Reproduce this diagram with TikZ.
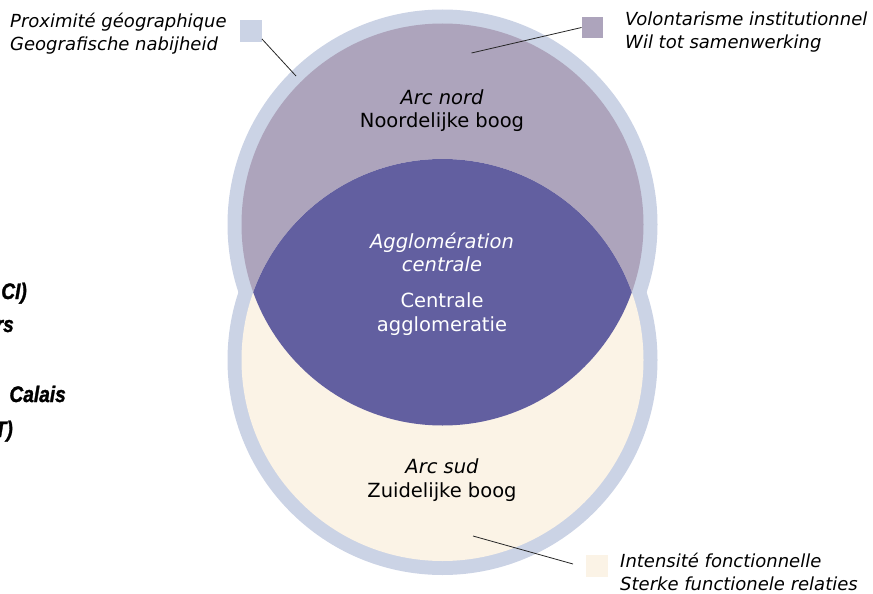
\documentclass[tikz,border=0pt]{standalone}
\usepackage{fontspec}
\usepackage{graphicx}
\setmainfont{DejaVu Sans}
\newfontfamily\fragfont{Liberation Sans}[BoldItalicFeatures={FakeBold=1.5}]
\definecolor{ringblue}{RGB}{203,211,229}
\definecolor{nordpurple}{RGB}{173,164,188}
\definecolor{lensblue}{RGB}{98,95,160}
\definecolor{sudcream}{RGB}{251,243,230}
\tikzset{
  lbl/.style={anchor=base, inner sep=0pt, font=\fontsize{19.5}{23}\selectfont},
  lbli/.style={lbl, font=\fontsize{19.5}{23}\selectfont\itshape},
  leg/.style={anchor=base west, inner sep=0pt, font=\fontsize{18}{23}\selectfont\itshape},
  swatch/.style={draw=none, minimum size=21.5pt, inner sep=0pt},
  leader/.style={draw=black!85, line width=0.8pt},
  frag/.style={anchor=base east, inner sep=0pt, font=\fontsize{22.5}{24}\fragfont\bfseries\itshape}
}
\begin{document}
\begin{tikzpicture}[x=1pt,y=-1pt]
\useasboundingbox (0,0) rectangle (873,594);
% outer rings
\fill[ringblue] (442.5,224.5) circle (215);
\fill[ringblue] (442.5,360) circle (215);
% inner fills
\fill[nordpurple] (442.5,224.5) circle (201);
\fill[sudcream] (442.5,360) circle (201);
% lens
\begin{scope}
  \clip (442.5,224.5) circle (201);
  \fill[lensblue] (442.5,360) circle (201);
\end{scope}

% centre labels
\node[lbli] (nordA) at (442,104) {Arc nord};
\node[lbl]  (nordB) at (442,127) {Noordelijke boog};
\node[lbli, text=white] (aggA) at (442,248) {Agglomération};
\node[lbli, text=white] (aggB) at (442,271) {centrale};
\node[lbl, text=white]  (aggC) at (442,307) {Centrale};
\node[lbl, text=white]  (aggD) at (442,331) {agglomeratie};
\node[lbli] (sudA) at (442,473) {Arc sud};
\node[lbl]  (sudB) at (442,497) {Zuidelijke boog};

% legend swatches
\node[swatch, fill=ringblue]   (sq1) at (251,31) {};
\node[swatch, fill=nordpurple] (sq2) at (592.5,27.5) {};
\node[swatch, fill=sudcream]   (sq3) at (597,566) {};

% legend texts
\node[leg] (leg1a) at (10,28) {Proximité géographique};
\node[leg] (leg1b) at (10,51) {Geografische nabijheid};
\node[leg] (leg2a) at (625,26) {Volontarisme institutionnel};
\node[leg] (leg2b) at (625,49) {Wil tot samenwerking};
\node[leg] (leg3a) at (620,567) {Intensité fonctionnelle};
\node[leg] (leg3b) at (620,590) {Sterke functionele relaties};

% leaders
\coordinate (p1) at (296,76);
\coordinate (p2) at (471.5,53);
\coordinate (p3a) at (473,536);
\coordinate (p3b) at (573,564);
\draw[leader] (sq1.-36) -- (p1);
\draw[leader] (sq2.west) -- (p2);
\draw[leader] (p3a) -- (p3b);

% cut-off fragments on the left
\node[frag] (f1) at (27,299) {\scalebox{0.85}[1]{CI)}};
\node[frag] (f2) at (14,332) {\scalebox{0.85}[1]{rs}};
\node[frag] (f3) at (66,402) {\scalebox{0.85}[1]{Calais}};
\node[frag] (f4) at (13,437) {\scalebox{0.85}[1]{T)}};
\end{tikzpicture}
\end{document}
